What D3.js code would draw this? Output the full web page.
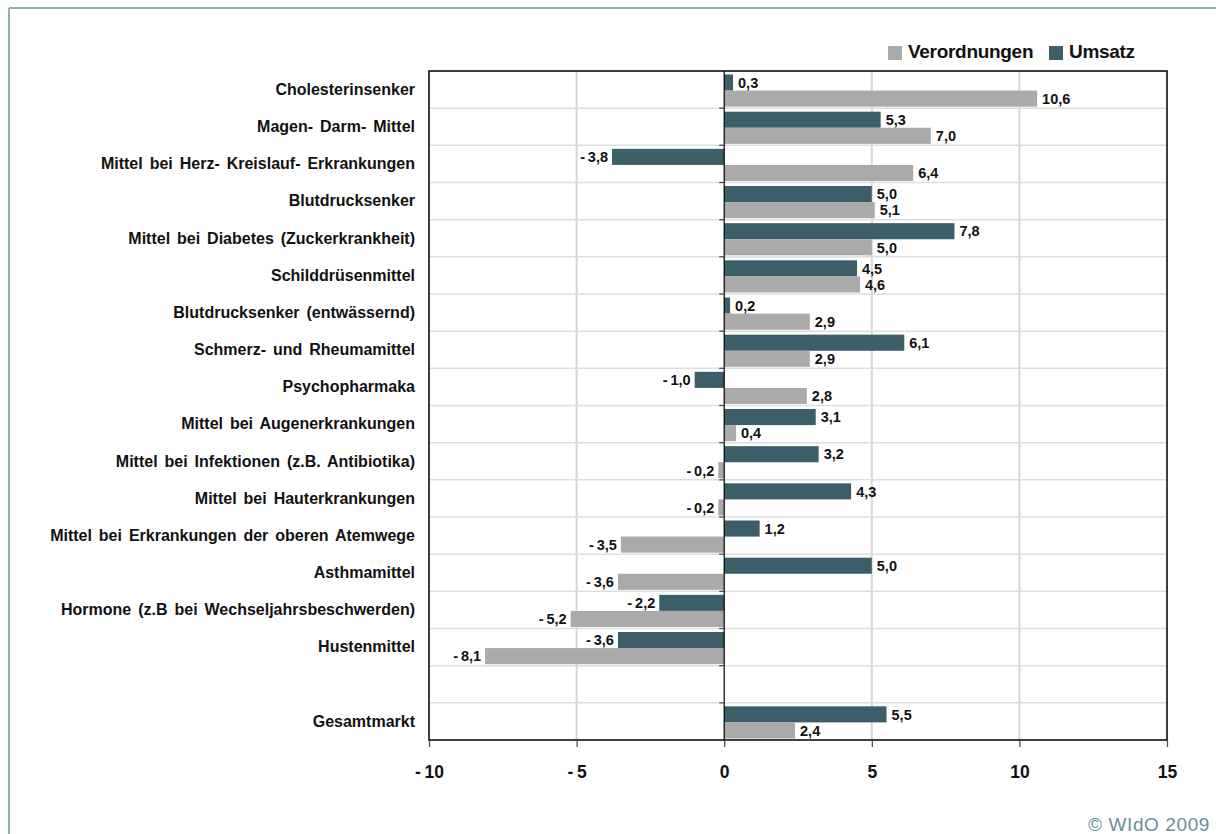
<!DOCTYPE html>
<html>
<head>
<meta charset="utf-8">
<script src="https://cdn.jsdelivr.net/npm/d3@7"></script>
<style>
  body { margin: 0; background: #ffffff; }
  svg { display: block; }
  text { font-family: "Liberation Sans", Arial, sans-serif; }
</style>
</head>
<body>
<div id="chart"></div>
<script>
// Daten
const kategorien = [
  "Cholesterinsenker",
  "Magen- Darm- Mittel",
  "Mittel bei Herz- Kreislauf- Erkrankungen",
  "Blutdrucksenker",
  "Mittel bei Diabetes (Zuckerkrankheit)",
  "Schilddrüsenmittel",
  "Blutdrucksenker (entwässernd)",
  "Schmerz-  und Rheumamittel",
  "Psychopharmaka",
  "Mittel bei Augenerkrankungen",
  "Mittel bei Infektionen (z.B. Antibiotika)",
  "Mittel bei Hauterkrankungen",
  "Mittel bei Erkrankungen der oberen Atemwege",
  "Asthmamittel",
  "Hormone (z.B bei Wechseljahrsbeschwerden)",
  "Hustenmittel",
  "",
  "Gesamtmarkt"
];
const umsatz = [0.3, 5.3, -3.8, 5.0, 7.8, 4.5, 0.2, 6.1, -1.0, 3.1, 3.2, 4.3, 1.2, 5.0, -2.2, -3.6, null, 5.5];
const verordnungen = [10.6, 7.0, 6.4, 5.1, 5.0, 4.6, 2.9, 2.9, 2.8, 0.4, -0.2, -0.2, -3.5, -3.6, -5.2, -8.1, null, 2.4];
const serien = ["Umsatz", "Verordnungen"];
const xTicks = [-10, -5, 0, 5, 10, 15];

const farben = { Umsatz: "#3c5e68", Verordnungen: "#aaaaaa" };

const W = 1216, H = 834;
const plot = { left: 429, right: 1167, top: 71, bottom: 740 };

const svg = d3.select("#chart").append("svg")
  .attr("width", W).attr("height", H);

// Rahmen der Seite
svg.append("line")
  .attr("x1", 9).attr("x2", W).attr("y1", 8).attr("y2", 8)
  .attr("stroke", "#8fb0b9").attr("stroke-width", 1.8);
svg.append("line")
  .attr("x1", 9).attr("x2", 9).attr("y1", 8).attr("y2", H)
  .attr("stroke", "#8fb0b9").attr("stroke-width", 2);

const x = d3.scaleLinear().domain([-10, 15]).range([plot.left, plot.right]);
const y = d3.scaleBand().domain(d3.range(kategorien.length)).range([plot.top, plot.bottom]).padding(0);
const yInner = d3.scaleBand().domain(serien).range([3.5, y.bandwidth() - 1.5]).padding(0);

// vertikale Gitterlinien
svg.append("g").selectAll("line")
  .data(xTicks.filter(t => t !== 0 && t !== -10 && t !== 15))
  .join("line")
  .attr("x1", d => x(d)).attr("x2", d => x(d))
  .attr("y1", plot.top).attr("y2", plot.bottom)
  .attr("stroke", "#d6d6d6").attr("stroke-width", 2);

// horizontale Gitterlinien
svg.append("g").selectAll("line")
  .data(d3.range(1, kategorien.length))
  .join("line")
  .attr("x1", plot.left).attr("x2", plot.right)
  .attr("y1", d => y(d)).attr("y2", d => y(d))
  .attr("stroke", "#dedede").attr("stroke-width", 1.5);

// Balken
const rows = kategorien.map((k, i) => ({ i, Umsatz: umsatz[i], Verordnungen: verordnungen[i] }));
const bars = [];
rows.forEach(r => serien.forEach(s => { if (r[s] !== null) bars.push({ i: r.i, s, v: r[s] }); }));

svg.append("g").selectAll("rect")
  .data(bars)
  .join("rect")
  .attr("x", d => x(Math.min(0, d.v)))
  .attr("width", d => Math.abs(x(d.v) - x(0)))
  .attr("y", d => y(d.i) + yInner(d.s))
  .attr("height", yInner.bandwidth())
  .attr("fill", d => farben[d.s]);

// Werte
const fmt = v => (v < 0 ? "-\u2009" : "") + d3.format(".1f")(Math.abs(v)).replace(".", ",");
svg.append("g").selectAll("text")
  .data(bars)
  .join("text")
  .attr("x", d => d.v >= 0 ? x(d.v) + 5 : x(d.v) - 4)
  .attr("y", d => y(d.i) + yInner(d.s) + yInner.bandwidth() / 2)
  .attr("dy", "0.36em")
  .attr("text-anchor", d => d.v >= 0 ? "start" : "end")
  .attr("font-size", 14.5).attr("font-weight", "bold")
  .attr("fill", "#111")
  .text(d => fmt(d.v));

// Null-Achse mit Ticks
svg.append("line")
  .attr("x1", x(0)).attr("x2", x(0)).attr("y1", plot.top).attr("y2", plot.bottom)
  .attr("stroke", "#000").attr("stroke-width", 1.2);
svg.append("g").selectAll("line")
  .data(d3.range(1, kategorien.length))
  .join("line")
  .attr("x1", x(0) - 5).attr("x2", x(0))
  .attr("y1", d => y(d)).attr("y2", d => y(d))
  .attr("stroke", "#444").attr("stroke-width", 1.2);

// Rahmen des Diagramms
svg.append("rect")
  .attr("x", plot.left).attr("y", plot.top)
  .attr("width", plot.right - plot.left).attr("height", plot.bottom - plot.top)
  .attr("fill", "none").attr("stroke", "#000").attr("stroke-width", 1.5);

// x-Achse
const xAxis = svg.append("g")
  .attr("transform", `translate(0,${plot.bottom})`)
  .call(d3.axisBottom(x).tickValues(xTicks).tickSize(7).tickFormat(d => d < 0 ? "-\u2009" + Math.abs(d) : d));
xAxis.select(".domain").remove();
xAxis.selectAll("line").attr("stroke", "#444").attr("stroke-width", 1.2);
xAxis.selectAll("text")
  .attr("y", 38).attr("dy", 0)
  .attr("font-size", 17.5).attr("font-weight", "bold")
  .attr("fill", "#111")
  .style("font-family", "'Liberation Sans', Arial, sans-serif");

// Kategorien
svg.append("g").selectAll("text")
  .data(kategorien)
  .join("text")
  .attr("x", 415)
  .attr("y", (d, i) => y(i) + y.bandwidth() / 2)
  .attr("dy", "0.33em")
  .attr("text-anchor", "end")
  .attr("font-size", 16).attr("font-weight", "bold")
  .attr("letter-spacing", 0)
  .attr("word-spacing", 2.5)
  .attr("fill", "#111")
  .text(d => d);

// Legende
const legende = [
  { s: "Verordnungen", x: 888 },
  { s: "Umsatz", x: 1049 }
];
const lg = svg.append("g").selectAll("g").data(legende).join("g")
  .attr("transform", d => `translate(${d.x},46)`);
lg.append("rect").attr("width", 14).attr("height", 14).attr("y", 0)
  .attr("fill", d => farben[d.s]);
lg.append("text").attr("x", 20).attr("y", 12)
  .attr("font-size", 19).attr("font-weight", "bold")
  .attr("letter-spacing", -0.3)
  .attr("fill", "#111")
  .text(d => d.s);

// Quelle
svg.append("text")
  .attr("x", 1210).attr("y", 831)
  .attr("text-anchor", "end")
  .attr("font-size", 19)
  .attr("letter-spacing", 0.6)
  .attr("fill", "#6b8f99")
  .text("© WIdO 2009");
</script>
</body>
</html>
